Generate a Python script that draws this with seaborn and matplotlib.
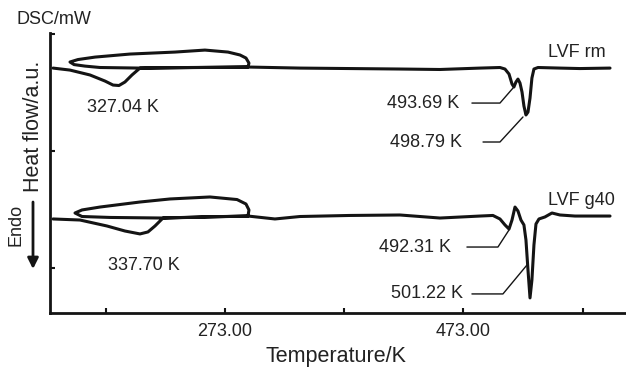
import matplotlib
matplotlib.use("Agg")
import matplotlib.pyplot as plt
import seaborn as sns
import pandas as pd

# ---------------- data ----------------
# LVF rm trace (temperature in K as drawn on the axis, heat flow in a.u.)
rm_T = [128.8, 143.0, 159.8, 172.4, 179.1, 184.1, 189.1, 195.0, 201.7, 243.7,
        292.3, 293.1, 290.6, 285.6, 275.5, 256.2, 231.1, 193.3, 164.0, 149.7,
        143.0, 146.4, 155.6, 168.2, 201.7, 292.3, 335.9, 377.8, 419.7, 453.3,
        486.8, 503.6, 507.8, 511.2, 513.7, 515.3, 517.0, 518.7, 520.4, 522.1,
        523.7, 525.4, 527.1, 528.8, 530.4, 532.1, 535.5, 553.9, 570.7, 595.9]
rm_hf = [17.09, 16.92, 16.50, 15.98, 15.64, 15.60, 15.90, 16.50, 17.09, 17.14,
         17.18, 17.52, 17.95, 18.21, 18.46, 18.63, 18.46, 18.29, 18.03, 17.82,
         17.61, 17.39, 17.26, 17.14, 17.09, 17.18, 17.09, 17.05, 17.01, 16.97,
         17.09, 17.14, 17.01, 16.58, 15.73, 15.47, 15.90, 16.15, 15.81, 15.04,
         13.85, 13.08, 13.33, 14.53, 16.24, 17.01, 17.14, 17.09, 17.05, 17.09]

# LVF g40 trace
g40_T = [128.8, 151.4, 174.0, 189.1, 201.7, 208.4, 214.3, 221.0, 252.0, 292.3,
         293.1, 290.6, 283.1, 260.4, 226.9, 201.7, 168.2, 153.1, 147.2, 153.1,
         176.6, 221.0, 292.3, 314.9, 335.9, 377.8, 419.7, 453.3, 486.8, 497.7,
         503.6, 507.8, 511.2, 513.7, 516.2, 518.7, 521.2, 523.7, 525.4, 527.1,
         528.8, 530.4, 532.1, 533.8, 536.3, 541.3, 547.2, 553.9, 566.5, 595.9]
g40_hf = [4.19, 4.10, 3.59, 3.16, 2.91, 3.08, 3.59, 4.27, 4.36, 4.44,
          4.96, 5.47, 5.85, 6.07, 5.90, 5.64, 5.21, 4.96, 4.70, 4.40,
          4.32, 4.27, 4.44, 4.19, 4.40, 4.49, 4.53, 4.27, 4.44, 4.49,
          4.19, 3.68, 3.33, 4.10, 5.21, 4.87, 4.10, 3.68, 2.39, -0.17,
          -2.56, -1.03, 1.97, 3.76, 4.19, 4.36, 4.70, 4.53, 4.44, 4.44]

# peak annotations
peak_labels = ["327.04 K", "493.69 K", "498.79 K", "337.70 K", "492.31 K", "501.22 K"]
peak_label_T = [157.3, 408.8, 411.4, 174.9, 402.1, 412.2]
peak_label_hf = [13.68, 14.02, 10.77, 0.25, 1.79, -2.22]
# leader lines: (start, elbow, target) for labels that have one
leader_T = [None, [480.1, 503.6, 514.5], [489.4, 503.6, 522.9],
            None, [475.9, 501.9, 511.2], [480.1, 506.1, 526.3]]
leader_hf = [None, [14.10, 14.10, 15.38], [10.77, 10.77, 12.91],
             None, [1.79, 1.79, 3.25], [-2.22, -2.22, 0.26]]

sample_names = ["LVF rm", "LVF g40"]
sample_T = [543.9, 543.9]
sample_hf = [18.46, 5.81]

major_ticks = [273.0, 473.0]
major_labels = ["273.00", "473.00"]
minor_ticks = [173.0, 373.0, 573.0]
y_ticks = [0, 10, 20]

# ---------------- plotting ----------------
sns.set_style("ticks")
plt.rcParams["font.family"] = ["Liberation Sans", "DejaVu Sans"]

INK = "#141414"
TXT = "#222222"

fig = plt.figure(figsize=(6.26, 3.68), dpi=100)
ax = fig.add_axes([50 / 626, 55 / 368, 576 / 626, 280 / 368])

sns.lineplot(x=rm_T, y=rm_hf, sort=False, estimator=None, color=INK, lw=2.2, ax=ax)
sns.lineplot(x=g40_T, y=g40_hf, sort=False, estimator=None, color=INK, lw=2.2, ax=ax)

for i, lab in enumerate(peak_labels):
    ax.text(peak_label_T[i], peak_label_hf[i], lab, ha="left", va="center",
            fontsize=13, color=TXT)
    if leader_T[i] is not None:
        ax.plot(leader_T[i], leader_hf[i], color=INK, lw=1.0)

for name, t, h in zip(sample_names, sample_T, sample_hf):
    ax.text(t, h, name, ha="left", va="center", fontsize=13, color=TXT)

ax.set_xlim(126.25, 609.3)
ax.set_ylim(-3.85, 20.09)
ax.set_xticks(major_ticks)
ax.set_xticklabels(major_labels)
ax.set_xticks(minor_ticks, minor=True)
ax.set_yticks(y_ticks)
ax.set_yticklabels([])

ax.tick_params(axis="x", which="both", direction="in", length=3.5, width=1.5,
               color=INK, labelsize=13, labelcolor=TXT, pad=7.5)
ax.tick_params(axis="y", which="both", direction="in", length=3.5, width=1.5,
               color=INK)

for s in ["top", "right"]:
    ax.spines[s].set_visible(False)
for s in ["left", "bottom"]:
    ax.spines[s].set_linewidth(2.0)
    ax.spines[s].set_color(INK)

ax.set_xlabel("Temperature/K", fontsize=15.5, color=TXT)
ax.xaxis.label.set(va="center")
ax.xaxis.set_label_coords(0.4965, -0.157)

ax.set_ylabel("Heat flow/a.u.", fontsize=15.5, color=TXT)
ax.yaxis.label.set(va="center", ha="center", rotation_mode="default")
ax.yaxis.set_label_coords(-0.0295, 0.666)

fig.text(17 / 626, 1 - 20 / 368, "DSC/mW", ha="left", va="center",
         fontsize=13, color=TXT)
fig.text(15.5 / 626, 1 - 225 / 368, "Endo", ha="center", va="center",
         rotation=90, fontsize=13, color=TXT)
ax.annotate("", xy=(33 / 626, 1 - 269 / 368), xytext=(33 / 626, 1 - 202 / 368),
            xycoords="figure fraction", textcoords="figure fraction",
            arrowprops=dict(arrowstyle="-|>", lw=2.0, color=INK,
                            mutation_scale=16, shrinkA=0, shrinkB=0))

fig.savefig("out.png", dpi=100)
